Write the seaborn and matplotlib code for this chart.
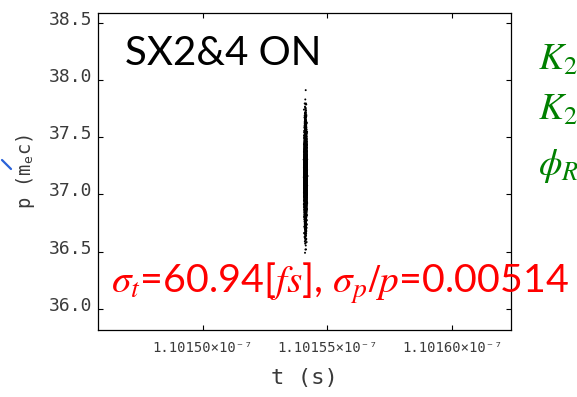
import numpy as np
import pandas as pd
import matplotlib
matplotlib.use("Agg")
import matplotlib.pyplot as plt
import matplotlib.transforms as mtransforms
from matplotlib.lines import Line2D
import seaborn as sns

# Bunch centroid and spreads (time in s, momentum in m_e c)
t_center = 1.1015412e-7
p_center = 37.17
sigma_t = 2.0e-14
sigma_p_rel = 0.00514
n_particles = 7000

# Axis ticks and limits
t_ticks = [1.10150e-7, 1.10155e-7, 1.10160e-7]
t_tick_labels = ["1.10150×10⁻⁷", "1.10155×10⁻⁷", "1.10160×10⁻⁷"]
t_limits = [1.1014582e-7, 1.1016234e-7]
p_ticks = [36.0, 36.5, 37.0, 37.5, 38.0, 38.5]
p_tick_labels = ["36.0", "36.5", "37.0", "37.5", "38.0", "38.5"]
p_limits = [35.815, 38.583]

# Annotation texts
title_text = "SX2&4 ON"
stats_text = r"$\sigma_t$=60.94[$fs$], $\sigma_p/p$=0.00514"
param_texts = [r"$K_2$", r"$K_2$", r"$\phi_R$"]

# Macro-particles laid out on a sunflower lattice with Gaussian radial profile
sigma_p = sigma_p_rel * p_center
k = np.arange(n_particles)
u = (k + 0.5) / n_particles
r = np.sqrt(-2.0 * np.log(1.0 - u))
theta = k * np.pi * (3.0 - np.sqrt(5.0))
beam = pd.DataFrame({
    "t": t_center + sigma_t * r * np.cos(theta),
    "p": p_center + sigma_p * r * np.sin(theta),
})

sns.set_style("ticks")
plt.rcParams["font.family"] = ["DejaVu Sans Mono", "DejaVu Sans"]
plt.rcParams["mathtext.fontset"] = "stix"

fig = plt.figure(figsize=(5.77, 3.97), dpi=100)
ax = fig.add_axes([0.1704, 0.1688, 0.7147, 0.7977])

sns.scatterplot(data=beam, x="t", y="p", s=2.0, color="black",
                linewidth=0, edgecolor="none", ax=ax, legend=False)

ax.set_xlim(t_limits)
ax.set_ylim(p_limits)
ax.set_xticks(t_ticks)
ax.set_xticklabels(t_tick_labels)
ax.set_yticks(p_ticks)
ax.set_yticklabels(p_tick_labels)

for side in ["left", "right", "top", "bottom"]:
    ax.spines[side].set_visible(True)
    ax.spines[side].set_color("black")
    ax.spines[side].set_linewidth(0.9)

ax.tick_params(axis="both", direction="in", length=3.5, width=0.8,
               top=True, right=True, color="black", labelcolor="#3a3a3a")
ax.tick_params(axis="y", labelsize=13, pad=4.5)
ax.tick_params(axis="x", labelsize=10, pad=8)

shift = mtransforms.ScaledTranslation(0, 0.05, fig.dpi_scale_trans)
for lbl in ax.get_yticklabels():
    lbl.set_transform(lbl.get_transform() + shift)

ax.set_xlabel("t (s)", fontsize=16, color="#3a3a3a")
ax.set_ylabel(r"p (m$_\mathregular{e}$c)", fontsize=13.5, color="#3a3a3a")
ax.xaxis.set_label_coords(0.5, -0.12)
ax.yaxis.set_label_coords(-0.148, 0.5)

W, H = 577.0, 397.0
fig.text(125 / W, 1 - 65 / H, title_text, fontsize=29, color="black",
         family="Lato", va="baseline", ha="left")
fig.text(111 / W, 1 - 293 / H, stats_text, fontsize=28.4, color="#ff0000",
         family="Lato", va="baseline", ha="left")
for txt, yb in zip(param_texts, [70, 120, 175]):
    fig.text(538 / W, 1 - yb / H, txt, fontsize=27, color="#008000",
             va="baseline", ha="left")

fig.add_artist(Line2D([2 / W, 11 / W], [1 - 160 / H, 1 - 169 / H],
                      color="#2a62d8", linewidth=1.6))

fig.savefig("out.png", dpi=100)
